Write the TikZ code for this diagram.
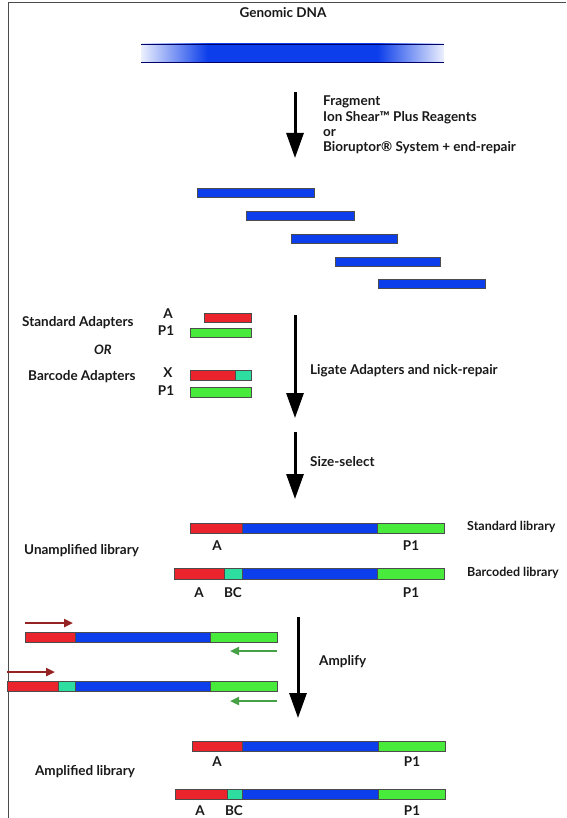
\documentclass[tikz,border=0pt]{standalone}
\usepackage{fontspec}
\setmainfont{Lato}
\usetikzlibrary{arrows.meta}
\definecolor{dnablue}{RGB}{12,62,235}
\definecolor{adred}{RGB}{235,35,45}
\definecolor{adgreen}{RGB}{72,235,60}
\definecolor{bcteal}{RGB}{45,222,160}
\definecolor{primred}{RGB}{150,35,35}
\definecolor{primgreen}{RGB}{70,160,70}
\definecolor{txtgray}{RGB}{25,25,25}
\pgfdeclarehorizontalshading{genome}{100bp}{color(0bp)=(dnablue!8); color(25bp)=(dnablue!8);
    color(36bp)=(dnablue); color(64bp)=(dnablue); color(75bp)=(dnablue!8); color(100bp)=(dnablue!8)}

\begin{document}
\begin{tikzpicture}[x=1pt,y=-1pt]
    \tikzstyle{lbl}=[font=\bfseries\fontsize{13.5}{15.3}\selectfont, text=txtgray, inner sep=0pt]
    \tikzstyle{bar}=[draw=black!70, line width=0.6pt]
    \tikzstyle{bigarrow}=[line width=3pt, -{Triangle[width=17pt,length=25pt]}]
    \tikzstyle{primer}=[line width=2.6pt, -{Triangle[width=8pt,length=9pt]}]

    \useasboundingbox (0,0) rectangle (566,818);
    \draw[black!70, line width=1pt] (566,3) -- (8,3) -- (8,818);

    % genomic DNA
    \node[lbl] (genomic) at (283,13) {Genomic DNA};
    \shade[shading=genome] (141,44) rectangle (444,62);
    \draw[black!60!blue, line width=0.8pt] (141,44) -- (444,44)
                                           (141,62) -- (444,62);

    % fragment
    \coordinate (fragtop) at (295,92);
    \coordinate (fragbot) at (295,158);
    \draw[bigarrow] (fragtop) -- (fragbot);
    \node[lbl, anchor=west, align=left] (fragtxt) at (323,125)
        {Fragment\\Ion Shear™ Plus Reagents\\or\\Bioruptor® System + end-repair};

    \foreach \xa/\xb/\ya in {197/314/188, 246/354/211, 291/397/234, 335/440/257, 378/485/279}
        \filldraw[bar, fill=dnablue] (\xa,\ya) rectangle (\xb,\ya+9);

    % adapters
    \node[lbl, anchor=west] (stdad) at (22,323) {Standard Adapters};
    \node[lbl] (adA) at (168,314) {A};
    \node[lbl] (adPa) at (166,331) {P1};
    \filldraw[bar, fill=adred]   (204,313) rectangle (251,322);
    \filldraw[bar, fill=adgreen] (190,328) rectangle (251,337);

    \node[lbl, font=\bfseries\itshape\fontsize{13}{15}\selectfont] (orlbl) at (103,350) {OR};

    \node[lbl, anchor=west] (bcad) at (28,377) {Barcode Adapters};
    \node[lbl] (adX) at (168,373) {X};
    \node[lbl] (adPb) at (166,391) {P1};
    \filldraw[bar, fill=adred]   (190,370) rectangle (235,380);
    \filldraw[bar, fill=bcteal]  (235,370) rectangle (251,380);
    \filldraw[bar, fill=adgreen] (190,387) rectangle (251,397);

    \coordinate (ligtop) at (295,315);
    \coordinate (ligbot) at (295,418);
    \draw[bigarrow] (ligtop) -- (ligbot);
    \node[lbl, anchor=west] (ligtxt) at (310,371) {Ligate Adapters and nick-repair};

    % size select
    \coordinate (sizetop) at (295,432);
    \coordinate (sizebot) at (295,499);
    \draw[bigarrow] (sizetop) -- (sizebot);
    \node[lbl, anchor=west] (sizetxt) at (310,462) {Size-select};

    % unamplified library
    \filldraw[bar, fill=adred]   (190,523) rectangle (242,533);
    \filldraw[bar, fill=dnablue] (242,523) rectangle (377,533);
    \filldraw[bar, fill=adgreen] (377,523) rectangle (444,533);
    \node[lbl] (stdA) at (217,546) {A};
    \node[lbl] (stdP) at (411,546) {P1};
    \node[lbl, anchor=west, font=\bfseries\fontsize{12.5}{15}\selectfont] (stdlib) at (467,527) {Standard library};

    \filldraw[bar, fill=adred]   (174,568) rectangle (224,579);
    \filldraw[bar, fill=bcteal]  (224,568) rectangle (242,579);
    \filldraw[bar, fill=dnablue] (242,568) rectangle (377,579);
    \filldraw[bar, fill=adgreen] (377,568) rectangle (444,579);
    \node[lbl] (bcA) at (199,593) {A};
    \node[lbl] (bcBC) at (233,593) {BC};
    \node[lbl] (bcP) at (411,593) {P1};
    \node[lbl, anchor=west, font=\bfseries\fontsize{12.5}{15}\selectfont] (bclib) at (467,573) {Barcoded library};

    \node[lbl, anchor=west] (unamp) at (24,551) {Unamplified library};

    % amplify
    \filldraw[bar, fill=adred]   (25,632) rectangle (75,642);
    \filldraw[bar, fill=dnablue] (75,632) rectangle (210,642);
    \filldraw[bar, fill=adgreen] (210,632) rectangle (277,642);
    \coordinate (fwdA) at (25,623);
    \coordinate (fwdB) at (73,623);
    \coordinate (revA) at (277,651);
    \coordinate (revB) at (230,651);
    \draw[primer, primred] (fwdA) -- (fwdB);
    \draw[primer, primgreen] (revA) -- (revB);

    \filldraw[bar, fill=adred]   (7,681) rectangle (58,691);
    \filldraw[bar, fill=bcteal]  (58,681) rectangle (75,691);
    \filldraw[bar, fill=dnablue] (75,681) rectangle (210,691);
    \filldraw[bar, fill=adgreen] (210,681) rectangle (277,691);
    \coordinate (fwdC) at (7,672);
    \coordinate (fwdD) at (55,672);
    \coordinate (revC) at (277,701);
    \coordinate (revD) at (230,701);
    \draw[primer, primred] (fwdC) -- (fwdD);
    \draw[primer, primgreen] (revC) -- (revD);

    \coordinate (amptop) at (298,617);
    \coordinate (ampbot) at (298,718);
    \draw[bigarrow] (amptop) -- (ampbot);
    \node[lbl, anchor=west] (amptxt) at (319,662) {Amplify};

    % amplified library
    \filldraw[bar, fill=adred]   (192,741) rectangle (242,751);
    \filldraw[bar, fill=dnablue] (242,741) rectangle (378,751);
    \filldraw[bar, fill=adgreen] (378,741) rectangle (445,751);
    \node[lbl] (ampA) at (217,762) {A};
    \node[lbl] (ampP) at (412,762) {P1};

    \filldraw[bar, fill=adred]   (175,789) rectangle (227,799);
    \filldraw[bar, fill=bcteal]  (227,789) rectangle (242,799);
    \filldraw[bar, fill=dnablue] (242,789) rectangle (378,799);
    \filldraw[bar, fill=adgreen] (378,789) rectangle (445,799);
    \node[lbl] (ampbA) at (200,811) {A};
    \node[lbl] (ampbBC) at (234,811) {BC};
    \node[lbl] (ampbP) at (412,811) {P1};

    \node[lbl] (amplified) at (85,772) {Amplified library};

\end{tikzpicture}
\end{document}
